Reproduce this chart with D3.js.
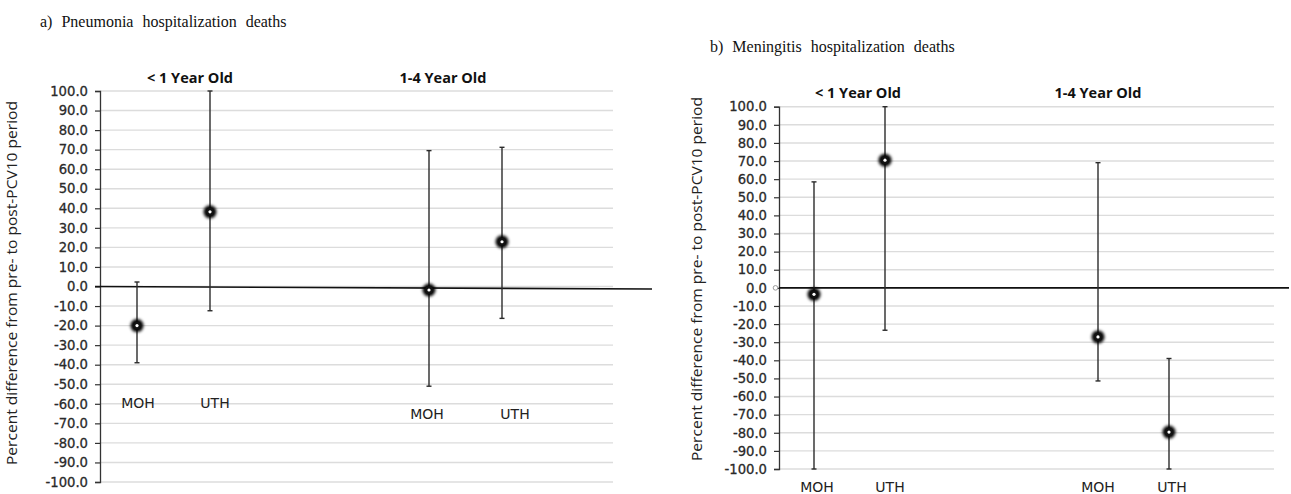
<!DOCTYPE html>
<html lang="en">
<head>
<meta charset="UTF-8">
<title>PCV10 hospitalization deaths</title>
<script src="https://d3js.org/d3.v7.min.js"></script>
<style>
    body { margin: 0; background: #fff; }
    .ptitle { font-family: "Liberation Serif", serif; font-size: 16px; word-spacing: 5px; fill: #111; }
    .tick text { font-family: "DejaVu Sans", sans-serif; font-size: 13.2px; fill: #2a2a2a; }
    .grp { font-family: "Open Sans", sans-serif; font-weight: 700; font-size: 14.5px; fill: #111; }
    .cat { font-family: "DejaVu Sans", sans-serif; font-size: 14px; fill: #222; }
    .ytitle { font-family: "Open Sans", sans-serif; font-size: 14px; fill: #222; }
</style>
</head>
<body>
<svg width="1291" height="494"></svg>
<script>
    // categories & groups
    const hospitals = ["MOH", "UTH", "MOH", "UTH"];
    const ageGroups = ["< 1 Year Old", "1-4  Year Old"];
    const slots = [0, 1, 4, 5];          // category slot in each panel
    const yTicks = d3.range(-100, 100.1, 10);

    // a) pneumonia: point estimate and 95% CI (percent)
    const pneuEst  = [-20.0, 38.2, -1.8, 22.9];
    const pneuLow  = [-39.0, -12.4, -51.0, -16.3];
    const pneuHigh = [2.3, 100.0, 69.5, 71.2];

    // b) meningitis
    const meninEst  = [-3.6, 70.5, -27.1, -79.6];
    const meninLow  = [-100.0, -23.4, -51.4, -100.0];
    const meninHigh = [58.5, 100.0, 69.1, -39.0];

    const svg = d3.select("svg");
    const fmt = d => d.toFixed(1);   // plain hyphen minus, like the original

    // blurry marker halo
    const defs = svg.append("defs");
    defs.append("filter").attr("id", "glow").attr("x", "-1").attr("y", "-1").attr("width", "3").attr("height", "3")
        .append("feGaussianBlur").attr("stdDeviation", 1.8);

    const panels = [
        {
            title: "a) Pneumonia  hospitalization  deaths", titleX: 40, titleY: 27,
            est: pneuEst, low: pneuLow, high: pneuHigh,
            axisX: 100, gridEnd: 613, yTop: 91, yBot: 482,
            xr: [137, 502],
            zero: [95, 652, 2.5],
            grpX: [190, 443], grpY: 83,
            catY: [-59.5, -59.5, -65, -65], catDx: [1, 5, -2, 13],
            yTitleX: 17, yTitleC: 283,
            zeroDot: false
        },
        {
            title: "b) Meningitis  hospitalization  deaths", titleX: 710, titleY: 52,
            est: meninEst, low: meninLow, high: meninHigh,
            axisX: 779, gridEnd: 1274, yTop: 106.7, yBot: 469,
            xr: [814, 1169],
            zero: [779, 1289, 0],
            grpX: [858, 1098], grpY: 98,
            catY: [-110, -110, -110, -110], catDx: [3, 5, 0, 3],
            yTitleX: 702, yTitleC: 279,
            zeroDot: true
        }
    ];

    panels.forEach(function (p) {
        const g = svg.append("g");
        const y = d3.scaleLinear().domain([-100, 100]).range([p.yBot, p.yTop]);
        const x = d3.scaleLinear().domain([0, 5]).range(p.xr);

        svg.append("text").attr("class", "ptitle")
            .attr("x", p.titleX).attr("y", p.titleY).text(p.title);

        // gridlines
        g.append("g").selectAll("line").data(yTicks).join("line")
            .attr("x1", p.axisX).attr("x2", p.gridEnd)
            .attr("y1", d => y(d)).attr("y2", d => y(d))
            .attr("stroke", "#dcdcdc").attr("stroke-width", 1.4);

        // y axis
        const ax = g.append("g").attr("transform", `translate(${p.axisX},0)`)
            .call(d3.axisLeft(y).tickValues(yTicks).tickFormat(fmt).tickSize(5).tickPadding(7));
        ax.select(".domain").attr("stroke", "#333").attr("stroke-width", 1.3);
        ax.selectAll(".tick line").attr("stroke", "#333").attr("stroke-width", 1.2);
        ax.selectAll(".tick text").attr("stroke", "#2a2a2a").attr("stroke-width", 0.3);

        // zero reference line
        g.append("line")
            .attr("x1", p.zero[0]).attr("x2", p.zero[1])
            .attr("y1", y(0)).attr("y2", y(0) + p.zero[2])
            .attr("stroke", "#111").attr("stroke-width", 1.6);

        if (p.zeroDot) {
            g.append("circle").attr("cx", p.axisX - 3.5).attr("cy", y(0)).attr("r", 2.3)
                .attr("fill", "#fff").attr("stroke", "#999").attr("stroke-width", 1);
        }

        // y title
        g.append("text").attr("class", "ytitle")
            .attr("transform", `translate(${p.yTitleX},${p.yTitleC}) rotate(-90)`)
            .attr("text-anchor", "middle")
            .attr("textLength", 364).attr("lengthAdjust", "spacingAndGlyphs")
            .text("Percent difference from pre- to post-PCV10 period");

        // group titles
        g.selectAll(".grp").data(ageGroups).join("text").attr("class", "grp")
            .attr("x", (d, i) => p.grpX[i]).attr("y", p.grpY)
            .attr("text-anchor", "middle").text(d => d);

        const rows = hospitals.map((h, i) => ({ h: h, s: slots[i], est: p.est[i], lo: p.low[i], hi: p.high[i], i: i }));

        // error bars
        const eb = g.append("g").attr("stroke", "#2b2b2b").attr("stroke-width", 1.4);
        eb.selectAll(".v").data(rows).join("line")
            .attr("x1", d => x(d.s)).attr("x2", d => x(d.s))
            .attr("y1", d => y(d.lo)).attr("y2", d => y(d.hi));
        eb.selectAll(".capL").data(rows).join("line")
            .attr("x1", d => x(d.s) - 2.5).attr("x2", d => x(d.s) + 2.5)
            .attr("y1", d => y(d.lo)).attr("y2", d => y(d.lo));
        eb.selectAll(".capH").data(rows).join("line")
            .attr("x1", d => x(d.s) - 2.5).attr("x2", d => x(d.s) + 2.5)
            .attr("y1", d => y(d.hi)).attr("y2", d => y(d.hi));

        // markers
        const mk = g.append("g").selectAll("g").data(rows).join("g")
            .attr("transform", d => `translate(${x(d.s)},${y(d.est)})`);
        mk.append("circle").attr("r", 6.5).attr("fill", "#000").attr("filter", "url(#glow)");
        mk.append("circle").attr("r", 4).attr("fill", "#111");
        mk.append("circle").attr("r", 1.6).attr("fill", "#fff");

        // category labels
        g.selectAll(".cat").data(rows).join("text").attr("class", "cat")
            .attr("x", d => x(d.s) + p.catDx[d.i]).attr("y", d => y(p.catY[d.i]) + 5)
            .attr("text-anchor", "middle").text(d => d.h);
    });
</script>
</body>
</html>
